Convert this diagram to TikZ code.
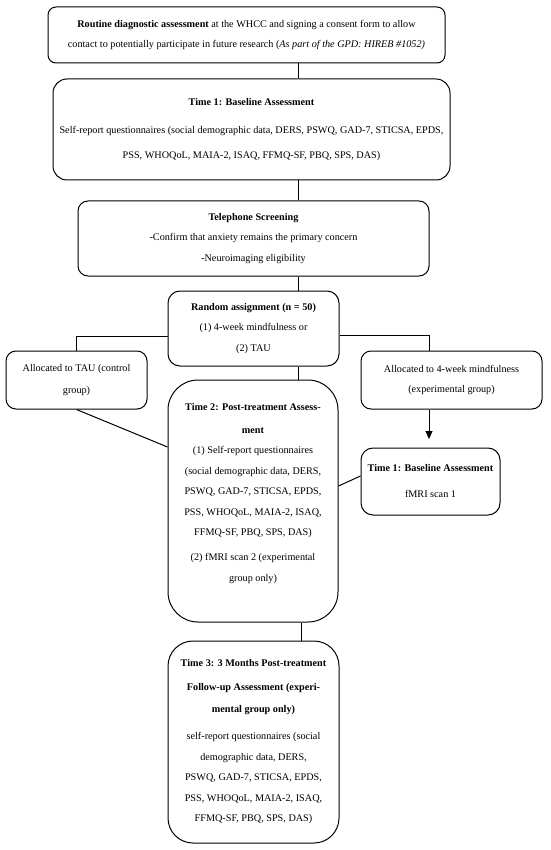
\documentclass[tikz,border=0pt]{standalone}
\usepackage{fontspec}
\setmainfont{Liberation Serif}
\usetikzlibrary{arrows.meta}
\begin{document}
\begin{tikzpicture}[x=1pt,y=-1pt,
  box/.style={draw, line width=1pt, rounded corners=#1, align=center, inner sep=0pt,
              font=\fontsize{10.2}{20.5}\selectfont},
  box/.default=10pt,
  link/.style={line width=1pt},
  tip/.style={-{Triangle[length=8pt,width=7pt]}}]
\useasboundingbox (0,0) rectangle (550,850);

\node[box=8pt, minimum width=397pt, minimum height=56pt] (b1) at (246.5,35)
  {\textbf{Routine diagnostic assessment} at the WHCC and signing a consent form to allow\\
   contact to potentially participate in future research (\textit{As part of the GPD: HIREB \#1052)}};

\node[box=14pt, minimum width=397pt, minimum height=101pt] (b2) at (251.5,129.5)
  {\textbf{Time 1: Baseline Assessment}\\[7.5pt]
   Self-report questionnaires (social demographic data, DERS, PSWQ, GAD-7, STICSA, EPDS,\\[4.5pt]
   PSS, WHOQoL, MAIA-2, ISAQ, FFMQ-SF, PBQ, SPS, DAS)};

\node[box=10pt, minimum width=351pt, minimum height=75pt] (b3) at (253.5,238.5)
  {\textbf{Telephone Screening}\\
   -Confirm that anxiety remains the primary concern\\
   -Neuroimaging eligibility};

\node[box=12pt, minimum width=171pt, minimum height=75pt] (b4) at (253.5,328.5)
  {\textbf{Random assignment (n = 50)}\\
   (1) 4-week mindfulness or\\
   (2) TAU};

\node[box=10pt, minimum width=141pt, minimum height=58pt] (b5) at (76.5,380)
  {Allocated to TAU (control\\[1.5pt] group)};

\node[box=10pt, minimum width=181pt, minimum height=58pt] (b6) at (451.5,380)
  {Allocated to 4-week mindfulness\\ (experimental group)};

\node[box=30pt, minimum width=170pt, minimum height=242pt] (b7) at (253,501)
  {\textbf{Time 2: Post-treatment Assess-}\\[2.5pt]
   \textbf{ment}\\[-0.5pt]
   (1) Self-report questionnaires\\
   (social demographic data, DERS,\\
   PSWQ, GAD-7, STICSA, EPDS,\\
   PSS, WHOQoL, MAIA-2, ISAQ,\\
   FFMQ-SF, PBQ, SPS, DAS)\\[4.5pt]
   (2) fMRI scan 2 (experimental\\
   group only)\rule[-17pt]{0pt}{17pt}};

\node[box=12pt, minimum width=139pt, minimum height=67pt] (b8) at (430.5,481.5)
  {\textbf{Time 1: Baseline Assessment}\\[5.5pt] fMRI scan 1};

\node[box=25pt, minimum width=171pt, minimum height=202pt] (b9) at (253.5,742)
  {\textbf{Time 3: 3 Months Post-treatment}\\[3.5pt]
   \textbf{Follow-up Assessment (experi-}\\[1.5pt]
   \textbf{mental group only)}\\[6.5pt]
   self-report questionnaires (social\\
   demographic data, DERS,\\
   PSWQ, GAD-7, STICSA, EPDS,\\
   PSS, WHOQoL, MAIA-2, ISAQ,\\
   FFMQ-SF, PBQ, SPS, DAS)};

\coordinate (spine) at (298.5,0);
\coordinate (spineb) at (301,0);
\coordinate (rx) at (429,0);

\draw[link] (b1.south -| spine) -- (b2.north -| spine);
\draw[link] (b2.south -| spine) -- (b3.north -| spine);
\draw[link] (b3.south -| spine) -- (b4.north -| spine);
\draw[link] (b4.south -| spine) -- (b7.north -| spine);
\draw[link] (b7.south -| spineb) -- (b9.north -| spineb);
\draw[link] ([yshift=-7.5pt]b4.west) -| (b5.north);
\draw[link] ([yshift=-7pt]b4.east) -| (b6.north -| rx);
\draw[link, tip, shorten >=8.5pt] (b6.south -| rx) -- (b8.north -| rx);
\draw[link] (b5.south) -- ([yshift=54pt]b7.west);
\draw[link] ([yshift=5.5pt]b8.west) -- ([yshift=15pt]b7.east);
\end{tikzpicture}
\end{document}
